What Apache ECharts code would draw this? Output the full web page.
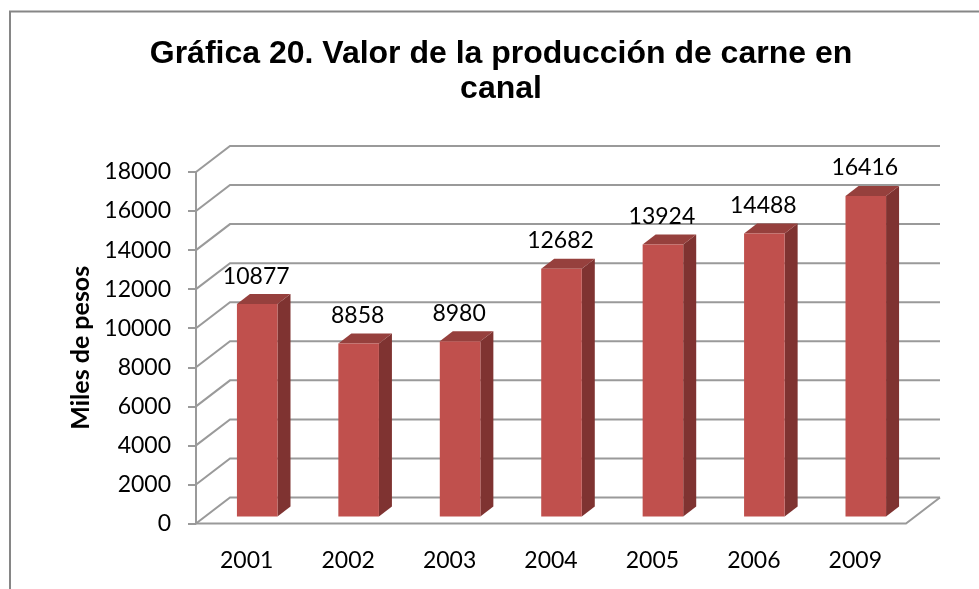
<!DOCTYPE html>
<html>
<head>
<meta charset="utf-8">
<style>html,body{margin:0;padding:0;background:#fff}#box{width:979px;height:589px}</style>
<script src="https://cdn.jsdelivr.net/npm/echarts@6/dist/echarts.min.js"></script>
</head>
<body>
<div id="box"></div>
<script>
var categories = ['2001', '2002', '2003', '2004', '2005', '2006', '2009'];
var values = [10877, 8858, 8980, 12682, 13924, 14488, 16416];
var ticks = [0, 2000, 4000, 6000, 8000, 10000, 12000, 14000, 16000, 18000];

// fake 3d depth of the floor, in px
var depthX = 34, depthY = 26;
var lineColor = '#9a9a9a';

var myChart = echarts.init(document.getElementById('box'));

// side wall + back wall lines
function renderWall(params, api) {
    var p = api.coord([0, api.value(0)]);
    var left = params.coordSys.x;
    var right = left + params.coordSys.width;
    return {
        type: 'polyline',
        silent: true,
        shape: {points: [[left, p[1]], [left + depthX, p[1] - depthY], [right + depthX, p[1] - depthY]]},
        style: {stroke: lineColor, lineWidth: 2, fill: null}
    };
}

// floor, only the two edges the wall lines miss
function renderFloor(params, api) {
    var left = params.coordSys.x;
    var right = left + params.coordSys.width;
    var y = api.coord([0, 0])[1];
    return {
        type: 'polyline',
        silent: true,
        shape: {points: [[left, y], [right, y], [right + depthX, y - depthY]]},
        style: {stroke: lineColor, lineWidth: 2, fill: null}
    };
}

function renderBar(params, api) {
    var i = api.value(0);
    var top = api.coord([i, api.value(1)]);
    var base = api.coord([i, 0]);
    var w = api.size([1, 0])[0] * 0.4;
    var x0 = top[0] + 10.5 - w / 2, x1 = x0 + w;
    var y0 = top[1] - 7, y1 = base[1] - 7;
    var dx = 13, dy = 10;
    return {
        type: 'group',
        children: [
            {type: 'polygon', shape: {points: [[x1, y0], [x1 + dx, y0 - dy], [x1 + dx, y1 - dy], [x1, y1]]}, style: {fill: '#7f3331'}},
            {type: 'polygon', shape: {points: [[x0, y0], [x0 + dx, y0 - dy], [x1 + dx, y0 - dy], [x1, y0]]}, style: {fill: '#96403d'}},
            {type: 'rect', shape: {x: x0, y: y0, width: w, height: y1 - y0}, style: {fill: '#c0504d'}},
            {type: 'text', style: {text: String(api.value(1)), x: x0 + w / 2 - 1, y: y0 - 28, align: 'center', verticalAlign: 'middle', font: '23px Lato', fill: '#000'}}
        ]
    };
}

var option = {
    animation: false,
    backgroundColor: '#fff',
    graphic: [{
        type: 'polyline',
        shape: {points: [[10, 589], [10, 11.5], [979, 11.5]]},
        style: {stroke: '#868686', lineWidth: 2, fill: null}
    }],
    title: {
        text: 'Gráfica 20. Valor de la producción de carne en\ncanal',
        left: 496,
        top: 32,
        textAlign: 'center',
        textStyle: {fontFamily: 'Liberation Sans', fontWeight: 'bold', fontSize: 32, lineHeight: 35, color: '#000'}
    },
    grid: {left: 196, right: 73, top: 172, bottom: 65.5},
    xAxis: {
        type: 'category',
        data: categories,
        axisTick: {show: false},
        axisLine: {show: false},
        axisLabel: {color: '#000', fontFamily: 'Lato', fontSize: 23, margin: 26}
    },
    yAxis: {
        type: 'value',
        name: 'Miles de pesos',
        nameLocation: 'middle',
        nameGap: 99,
        nameTextStyle: {fontFamily: 'Lato', fontWeight: 'bold', fontSize: 25, color: '#000'},
        min: 0,
        max: 18000,
        interval: 2000,
        splitLine: {show: false},
        axisLine: {show: true, lineStyle: {color: lineColor, width: 2}},
        axisTick: {show: true, length: 8, lineStyle: {color: lineColor, width: 2}},
        axisLabel: {
            color: '#000',
            fontFamily: 'Lato',
            fontSize: 23,
            margin: 25,
            formatter: function (v) { return String(v); }
        }
    },
    series: [
        {type: 'custom', renderItem: renderWall, data: ticks.map(function (t) { return [t]; }), encode: {y: 0}, z: 1, silent: true},
        {type: 'custom', renderItem: renderFloor, data: [[0]], encode: {y: 0}, z: 1, silent: true},
        {type: 'custom', renderItem: renderBar, data: values.map(function (v, i) { return [i, v]; }), encode: {x: 0, y: 1}, z: 2, silent: true}
    ]
};

myChart.setOption(option);
</script>
</body>
</html>
